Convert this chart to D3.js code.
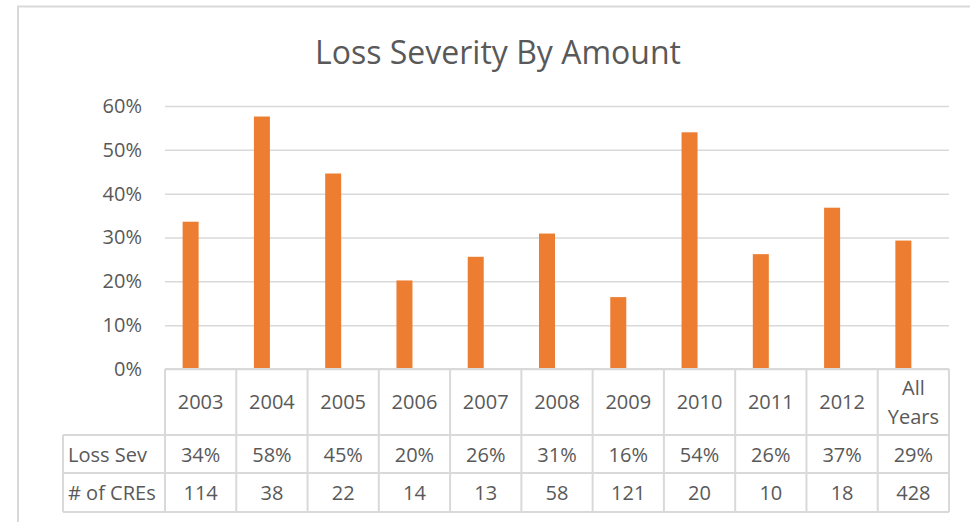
<!DOCTYPE html>
<html>
<head>
<meta charset="utf-8">
<script src="https://cdn.jsdelivr.net/npm/d3@7"></script>
<style>
  body { margin: 0; background: #fff; }
  text { font-family: "Open Sans", sans-serif; fill: #595959; }
</style>
</head>
<body>
<script>
// data
const categories = ['2003', '2004', '2005', '2006', '2007', '2008', '2009', '2010', '2011', '2012', 'All Years'];
const lossSev = [0.336, 0.576, 0.446, 0.202, 0.256, 0.309, 0.164, 0.540, 0.262, 0.368, 0.293];
const creCount = [114, 38, 22, 14, 13, 58, 121, 20, 10, 18, 428];
const yTicks = [0, 0.1, 0.2, 0.3, 0.4, 0.5, 0.6];
const rowLabels = ['Loss Sev', '# of CREs'];

const W = 970, H = 522;
const svg = d3.select('body').append('svg').attr('width', W).attr('height', H);

// chart border
svg.append('rect').attr('x', 18).attr('y', 6.5).attr('width', 980).attr('height', 540)
  .style('fill', 'none').style('stroke', '#d9d9d9').style('stroke-width', 2);

svg.append('text').attr('x', 498).attr('y', 63.5).attr('text-anchor', 'middle')
  .style('font-size', '32px').text('Loss Severity By Amount');

const pLeft = 165, pRight = 949, pTop = 106, pBottom = 369;
const x = d3.scaleBand().domain(categories).range([pLeft, pRight]);
const y = d3.scaleLinear().domain([0, 0.6]).range([pBottom, pTop]);
const pct = d3.format('.0%');

// gridlines + y labels
const yAxis = d3.axisLeft(y).tickValues(yTicks).tickFormat(pct).tickSize(-(pRight - pLeft)).tickPadding(23);
const ga = svg.append('g').attr('transform', `translate(${pLeft},0)`).call(yAxis);
ga.select('.domain').remove();
ga.selectAll('.tick line').style('stroke', '#d9d9d9').style('stroke-width', 1.5);
ga.selectAll('.tick text').style('font-size', '20px').style('font-family', '"Open Sans", sans-serif').attr('fill', '#595959');

// bars (Excel draws them a little left of the table column centre)
const barW = 16;
svg.append('g').selectAll('rect').data(lossSev).join('rect')
  .attr('x', (d, i) => x(categories[i]) + x.bandwidth() / 2 - 10 - barW / 2)
  .attr('y', d => y(d))
  .attr('width', barW)
  .attr('height', d => y(0) - y(d))
  .style('fill', '#ED7D31');

// data table
const row1 = 435, row2 = 473, row3 = 512, labelLeft = 63;
const grid = svg.append('g').style('stroke', '#d9d9d9').style('stroke-width', 2);
grid.append('line').attr('x1', pLeft).attr('x2', pRight).attr('y1', pBottom).attr('y2', pBottom);
[row1, row2, row3].forEach(r => grid.append('line').attr('x1', labelLeft).attr('x2', pRight).attr('y1', r).attr('y2', r));
grid.append('line').attr('x1', labelLeft).attr('x2', labelLeft).attr('y1', row1).attr('y2', row3);
categories.concat(['end']).forEach((c, i) => {
  const xx = i < categories.length ? x(c) : pRight;
  grid.append('line').attr('x1', xx).attr('x2', xx).attr('y1', pBottom).attr('y2', row3);
});

const tbl = svg.append('g').style('font-size', '20px').attr('text-anchor', 'middle');
categories.forEach(c => {
  const cx = x(c) + x.bandwidth() / 2;
  const parts = c.split(' ');
  const t = tbl.append('text').attr('x', cx).attr('y', parts.length > 1 ? 395 : 409);
  parts.forEach((p, j) => t.append('tspan').attr('x', cx).attr('dy', j ? 28.5 : 0).text(p));
});
lossSev.forEach((v, i) => {
  tbl.append('text').attr('x', x(categories[i]) + x.bandwidth() / 2).attr('y', 461.5).text(pct(v));
});
creCount.forEach((v, i) => {
  tbl.append('text').attr('x', x(categories[i]) + x.bandwidth() / 2).attr('y', 499.5).text(v);
});
rowLabels.forEach((l, i) => {
  svg.append('text').attr('x', 68).attr('y', i ? 499.5 : 461.5).style('font-size', '20px').text(l);
});
</script>
</body>
</html>
